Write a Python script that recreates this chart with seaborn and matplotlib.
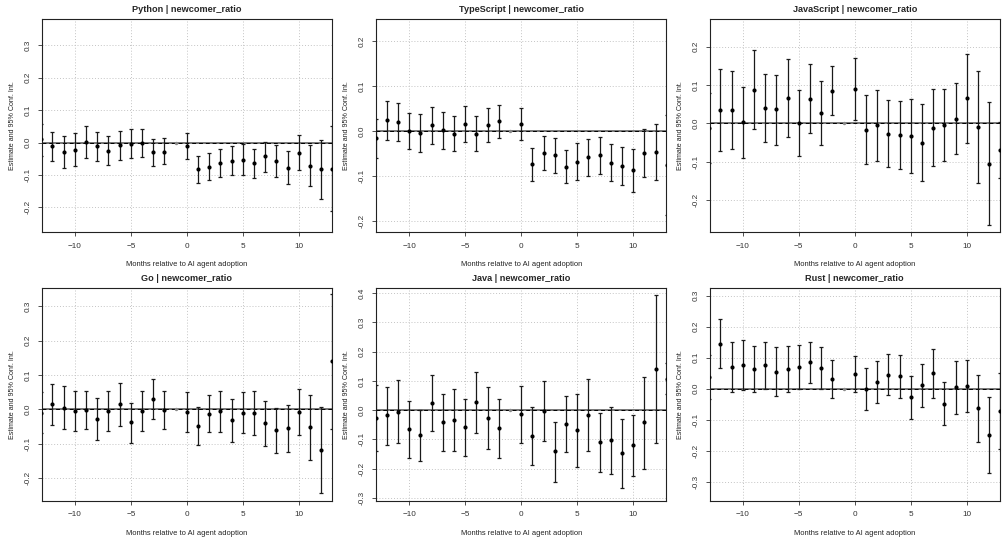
import numpy as np
import pandas as pd
import matplotlib
matplotlib.use("Agg")
import matplotlib.pyplot as plt
import matplotlib.ticker as mtick
import seaborn as sns

months = list(range(-13, 14))
languages = ["Python", "TypeScript", "JavaScript", "Go", "Java", "Rust"]

# estimates and 95% CI (month -1 is the reference period)
python_est = [0.010, -0.011, -0.029, -0.022, 0.003, -0.010, -0.026, -0.008, -0.003, -0.002, -0.030, -0.028, 0.0,
              -0.011, -0.082, -0.074, -0.062, -0.057, -0.053, -0.063, -0.042, -0.056, -0.077, -0.031, -0.071, -0.081, -0.080]
python_lo = [-0.040, -0.058, -0.078, -0.071, -0.047, -0.056, -0.070, -0.055, -0.048, -0.044, -0.071, -0.067, np.nan,
             -0.052, -0.125, -0.116, -0.106, -0.101, -0.100, -0.108, -0.090, -0.107, -0.128, -0.086, -0.134, -0.174, -0.210]
python_hi = [0.058, 0.034, 0.021, 0.029, 0.050, 0.032, 0.019, 0.036, 0.041, 0.042, 0.011, 0.013, np.nan,
             0.029, -0.040, -0.033, -0.020, -0.011, -0.005, -0.019, 0.003, -0.006, -0.026, 0.022, -0.008, 0.009, 0.050]

typescript_est = [-0.016, 0.024, 0.020, 0.000, -0.004, 0.013, 0.002, -0.006, 0.016, -0.007, 0.013, 0.022, 0.0,
                  0.016, -0.074, -0.048, -0.054, -0.079, -0.068, -0.058, -0.054, -0.071, -0.078, -0.087, -0.049, -0.046, -0.076]
typescript_lo = [-0.059, -0.019, -0.022, -0.041, -0.047, -0.028, -0.039, -0.045, -0.025, -0.045, -0.025, -0.015, np.nan,
                 -0.019, -0.112, -0.086, -0.093, -0.116, -0.109, -0.100, -0.095, -0.112, -0.121, -0.135, -0.103, -0.109, -0.187]
typescript_hi = [0.026, 0.068, 0.062, 0.041, 0.039, 0.053, 0.043, 0.033, 0.056, 0.033, 0.051, 0.059, np.nan,
                 0.052, -0.037, -0.010, -0.015, -0.042, -0.026, -0.017, -0.013, -0.029, -0.035, -0.039, 0.004, 0.016, 0.036]

javascript_est = [-0.013, 0.034, 0.035, 0.003, 0.088, 0.041, 0.037, 0.066, 0.002, 0.064, 0.026, 0.085, 0.0,
                  0.089, -0.016, -0.003, -0.027, -0.030, -0.033, -0.050, -0.011, -0.004, 0.012, 0.065, -0.009, -0.106, -0.070]
javascript_lo = [-0.104, -0.073, -0.067, -0.091, -0.015, -0.048, -0.055, -0.035, -0.085, -0.025, -0.057, 0.021, np.nan,
                 0.008, -0.107, -0.097, -0.113, -0.118, -0.130, -0.150, -0.110, -0.097, -0.080, -0.051, -0.154, -0.266, -0.141]
javascript_hi = [0.078, 0.141, 0.137, 0.096, 0.191, 0.129, 0.127, 0.168, 0.088, 0.154, 0.110, 0.149, np.nan,
                 0.170, 0.075, 0.088, 0.060, 0.059, 0.063, 0.050, 0.089, 0.089, 0.104, 0.180, 0.136, 0.055, 0.004]

go_est = [-0.010, 0.015, 0.005, -0.004, -0.002, -0.028, -0.005, 0.015, -0.038, -0.005, 0.031, -0.001, 0.0,
          -0.008, -0.048, -0.012, -0.006, -0.031, -0.009, -0.010, -0.041, -0.059, -0.053, -0.007, -0.051, -0.117, 0.140]
go_lo = [-0.070, -0.045, -0.058, -0.064, -0.057, -0.090, -0.064, -0.048, -0.098, -0.064, -0.028, -0.056, np.nan,
         -0.067, -0.105, -0.067, -0.067, -0.095, -0.069, -0.075, -0.106, -0.127, -0.123, -0.075, -0.148, -0.243, -0.056]
go_hi = [0.050, 0.073, 0.067, 0.055, 0.055, 0.032, 0.055, 0.076, 0.020, 0.054, 0.090, 0.054, np.nan,
         0.050, 0.006, 0.042, 0.054, 0.029, 0.051, 0.053, 0.025, 0.005, 0.014, 0.060, 0.042, 0.008, 0.336]

java_est = [-0.027, -0.017, -0.006, -0.066, -0.084, 0.026, -0.042, -0.034, -0.057, 0.027, -0.026, -0.062, 0.0,
            -0.013, -0.088, -0.002, -0.140, -0.048, -0.068, -0.016, -0.109, -0.103, -0.146, -0.120, -0.042, 0.140, 0.108]
java_lo = [-0.141, -0.119, -0.114, -0.163, -0.173, -0.071, -0.139, -0.141, -0.157, -0.077, -0.133, -0.165, np.nan,
           -0.112, -0.187, -0.105, -0.245, -0.144, -0.193, -0.141, -0.211, -0.219, -0.268, -0.226, -0.202, -0.114, 0.055]
java_hi = [0.085, 0.080, 0.103, 0.030, 0.001, 0.121, 0.054, 0.072, 0.038, 0.131, 0.079, 0.039, np.nan,
           0.084, 0.009, 0.100, -0.039, 0.047, 0.054, 0.106, -0.010, 0.011, -0.030, -0.016, 0.114, 0.395, 0.162]

rust_est = [0.038, 0.145, 0.069, 0.076, 0.062, 0.075, 0.055, 0.063, 0.070, 0.085, 0.067, 0.030, 0.0,
            0.047, 0.000, 0.022, 0.045, 0.040, -0.028, 0.010, 0.051, -0.049, 0.005, 0.009, -0.063, -0.151, -0.072]
rust_lo = [-0.032, 0.067, -0.010, -0.006, -0.011, -0.002, -0.024, -0.011, 0.000, 0.018, -0.001, -0.031, np.nan,
           -0.012, -0.068, -0.047, -0.022, -0.029, -0.098, -0.061, -0.030, -0.118, -0.081, -0.074, -0.171, -0.274, -0.194]
rust_hi = [0.109, 0.224, 0.149, 0.156, 0.137, 0.152, 0.133, 0.137, 0.140, 0.149, 0.135, 0.092, np.nan,
           0.105, 0.066, 0.089, 0.111, 0.108, 0.042, 0.081, 0.129, 0.020, 0.089, 0.092, 0.043, -0.028, 0.049]

series = {
    "Python": (python_est, python_lo, python_hi),
    "TypeScript": (typescript_est, typescript_lo, typescript_hi),
    "JavaScript": (javascript_est, javascript_lo, javascript_hi),
    "Go": (go_est, go_lo, go_hi),
    "Java": (java_est, java_lo, java_hi),
    "Rust": (rust_est, rust_lo, rust_hi),
}
ylims = {
    "Python": (-0.277, 0.381),
    "TypeScript": (-0.226, 0.250),
    "JavaScript": (-0.284, 0.272),
    "Go": (-0.267, 0.355),
    "Java": (-0.311, 0.419),
    "Rust": (-0.363, 0.326),
}

sns.set_style("white")
plt.rcParams["font.family"] = ["Liberation Sans", "DejaVu Sans"]

fig = plt.figure(figsize=(10.08, 5.43), dpi=100)
lefts = [0.0414, 0.373, 0.704]
width = 0.288
bottoms = [0.572, 0.0773]
height = 0.393

for i, lang in enumerate(languages):
    est, lo, hi = series[lang]
    df = pd.DataFrame({"month": months, "est": est, "lo": lo, "hi": hi})
    ax = fig.add_axes([lefts[i % 3], bottoms[i // 3], width, height])

    ax.grid(True, color="#c4c4c4", linestyle=(0, (1, 2)), linewidth=0.7)
    ax.set_axisbelow(True)

    ax.axhline(0, color="#777777", linewidth=1.4, zorder=2)
    ax.axhline(0, color="black", linewidth=0.7, linestyle=(0, (4, 3)), zorder=2)

    ci = df.dropna()
    ax.errorbar(ci["month"], ci["est"],
                yerr=[ci["est"] - ci["lo"], ci["hi"] - ci["est"]],
                fmt="none", ecolor="#1a1a1a", elinewidth=0.9, capsize=1.6,
                capthick=0.9, zorder=3)
    sns.scatterplot(data=ci, x="month", y="est", ax=ax, color="black",
                    s=9, edgecolor="black", linewidth=0, zorder=4)
    ref = df[df["lo"].isna()]
    sns.scatterplot(data=ref, x="month", y="est", ax=ax, color="#888888",
                    s=6, linewidth=0, zorder=4)

    ax.set_xlim(-12.96, 12.96)
    ax.set_ylim(*ylims[lang])
    ax.xaxis.set_major_locator(mtick.FixedLocator([-10, -5, 0, 5, 10]))
    ax.yaxis.set_major_locator(mtick.MultipleLocator(0.1))
    ax.yaxis.set_major_formatter(mtick.FormatStrFormatter("%.1f"))
    ax.tick_params(axis="both", which="major", direction="out", length=3,
                   width=0.6, labelsize=5.9, colors="#333333", pad=4.5,
                   bottom=True, left=True)
    for lab in ax.get_yticklabels():
        lab.set_rotation(90)
        lab.set_va("center")
    for s in ax.spines.values():
        s.set_visible(True)
        s.set_color("#222222")
        s.set_linewidth(0.8)

    ax.set_title(f"{lang} | newcomer_ratio", fontsize=6.6, fontweight="bold", pad=5)
    ax.set_xlabel("Months relative to AI agent adoption", fontsize=5.4, labelpad=8, color="#222222")
    ax.set_ylabel("Estimate and 95% Conf. Int.", fontsize=5.1, labelpad=6, color="#222222")

fig.savefig("out.png", dpi=100)
